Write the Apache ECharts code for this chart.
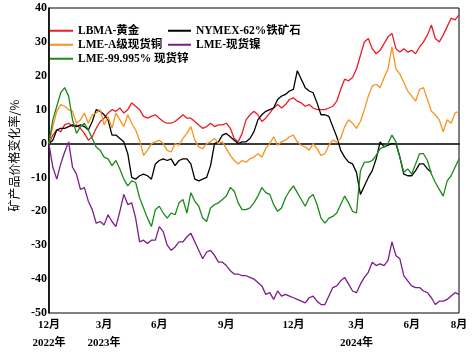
<!DOCTYPE html>
<html><head><meta charset="utf-8">
<script src="https://cdn.jsdelivr.net/npm/echarts@6/dist/echarts.min.js"></script>
<style>html,body{margin:0;padding:0;background:#fff}#c{width:473px;height:356px}</style>
</head><body><div id="c"></div>
<script>
const seriesNames = ['LBMA-黄金', 'NYMEX-62%铁矿石', 'LME-A级现货铜', 'LME-现货镍', 'LME-99.995% 现货锌'];

const gold = [0,2.5,4,3.5,5.5,6,5,5.5,4.5,3,
 1,2,4.5,6.5,7.5,9,10,9.5,10.5,9,
 10,12,11,10,8,7.5,8,8.5,7.5,6.5,
 6,6,6.5,7.5,8.5,7.5,7.5,6.5,5.5,4.5,
 5,6,5,5.5,5.5,6,4.5,1.5,0.5,3,
 7,8.5,9.5,8.5,6.5,7.5,9,10.5,11.5,10.5,
 11.5,13,13.5,12.5,12,11,11.5,10.5,10,10,
 10,10.5,11,12.5,16,19,18.5,19.5,22,26,
 30,31,28,26.5,27.5,29.5,31.5,32.5,28,27,
 28,27,27.5,26.5,28.5,30,32,35,31,30,
 32,34.5,37,36.5,38];

const ironOre = [0,1,4,4.5,4.5,5,5.5,5,5.5,5,
 4,6.5,10,9.5,8.5,7,2.5,2.5,1.5,0.5,
 -3,-10,-10.5,-9.5,-9,-9.5,-10.5,-6,-5,-4.5,
 -5,-4.5,-6.5,-5,-4.5,-4.5,-6,-10.5,-11,-10.5,
 -10,-6.5,0,0.5,2.5,3,2,1,0,0.5,
 0.5,1.5,3.5,7,8.5,9.5,10,10.5,13,14,
 14.5,15.5,16,21.5,19,16.5,15.5,15,12,8.5,
 8.5,8,5,2,-2,-4,-5.5,-6,-8.5,-15,
 -12.5,-10,-8,-4.5,0.5,-1,-0.5,0,0,-4,
 -9,-9.5,-9.5,-8,-6,-6,-7.5,-8.5,null,null,
 null,null,null,null,null];

const copper = [0,5,9.5,11.5,11,10,9.5,6,7,9,
 6,8.5,9,10,5.5,8,4.5,9,7,5,
 8.5,6,4,1,-3.5,-2,0,0.5,1,0,
 -2,-2.5,0,-0.5,1.5,3,5,1,-1,-1.5,
 0,0.5,1.5,0,0.5,-1.5,-3.5,-5,-6,-5,
 -5.5,-4.5,-4,-3,-4,-1.5,0,2,-0.5,0.5,
 1,2,2.5,0.5,-0.5,-1,-2,0,-1.5,-3.5,
 -3,-0.5,1,0.5,1.5,5,7,6,4.5,6.5,
 10,14,17,17.5,16.5,19.5,22,28.5,22,20.5,
 18,15.5,14,12.5,16,16.5,13,9.5,8.5,7,
 3.5,7,6,9,9.5];

const nickel = [0,-7,-10.5,-6,-2.5,0.5,-7,-9,-13.5,-13,
 -17,-19.5,-23.5,-23,-24,-21,-23,-24.5,-20,-15,
 -18,-17.5,-22,-29,-28.5,-29.5,-28.5,-28.5,-24.5,-26,
 -30,-31.5,-30.5,-29,-29,-27.5,-26.5,-29,-31.5,-34,
 -32,-31.5,-33,-35,-35,-36,-37.5,-38.5,-38.5,-39,
 -39,-39.5,-40,-41,-42,-44.5,-44,-46,-43.5,-45,
 -44.5,-45,-45.5,-46,-46.5,-47,-45.5,-45,-46.5,-47.5,
 -47.5,-45,-42.5,-42,-40.5,-39.5,-41.5,-43.5,-44,-41.5,
 -39.5,-38,-35,-36,-35.5,-36,-34.5,-29,-33,-34,
 -39,-40.5,-42,-42.5,-42.5,-43.5,-44,-45.5,-47.5,-46.5,
 -46.5,-46,-45,-44,-44.5];

const zinc = [0,7,11,15,16.5,14,7,3,5,6,
 4,1.5,-1,-2,-4,-4.5,-6.5,-5,-7.5,-10.5,
 -12.5,-11,-11.5,-16,-19,-22,-24.5,-19.5,-18.5,-20.5,
 -22,-20.5,-21,-17.5,-16.5,-20.5,-14.5,-17,-18.5,-22,
 -23,-19,-18,-17.5,-16.5,-15.5,-13,-14,-17.5,-19.5,
 -19.5,-19,-17.5,-15.5,-13,-14.5,-15,-18,-20,-19,
 -16,-14,-12.5,-14.5,-16.5,-18.5,-16,-15,-18,-22,
 -23.5,-22,-21.5,-20.5,-18,-15.5,-17.5,-20,-20.5,-8,
 -5.5,-5.5,-5,-3.5,-1.5,-1,0,2.5,0.5,-4,
 -8.5,-7.5,-9,-6,-3,-3,-5,-9,-11.5,-13.5,
 -15.5,-11,-9.5,-7,-4.5];

// x-axis tick labels (category index -> month / year)
const tickIndex = [0, 14, 28, 45, 62, 78, 92, 104];
const tickMonth = ['12月', '3月', '6月', '9月', '12月', '3月', '6月', '8月'];
const tickYear  = ['2022年', '2023年', '', '', '', '2024年', '', ''];

const categories = gold.map((_, i) => String(i));
const colors = ['#ee1c25', '#000000', '#f7931e', '#7e1a8e', '#1b8a1b'];
const dataSets = [gold, ironOre, copper, nickel, zinc];

const serif = '"Liberation Serif","Times New Roman","Noto Sans CJK SC",serif';
const chart = echarts.init(document.getElementById('c'), null, {renderer: 'canvas'});
const legendText = {fontSize: 11.5, fontWeight: 'bold', color: '#000', fontFamily: serif};
const legendBase = {orient: 'vertical', top: 25, padding: 0, icon: 'rect',
  itemWidth: 23, itemHeight: 2, itemGap: 2.5, textStyle: legendText};
const option = {
  animation: false,
  backgroundColor: '#fff',
  grid: {left: 42, right: 14, top: 8, bottom: 43, show: true, borderColor: '#000', borderWidth: 1, backgroundColor: 'transparent'},
  legend: [
    Object.assign({data: [seriesNames[0], seriesNames[2], seriesNames[4]], left: 50}, legendBase),
    Object.assign({data: [seriesNames[1], seriesNames[3]], left: 168}, legendBase)
  ],
  xAxis: {
    type: 'category', data: categories, boundaryGap: false,
    axisLine: {lineStyle: {color: '#000', width: 1.5}},
    axisTick: {show: false},
    splitLine: {show: false},
    axisLabel: {
      interval: (i) => tickIndex.includes(i),
      formatter: (v, i) => {
        const k = tickIndex.indexOf(i);
        return k < 0 ? '' : tickMonth[k] + '\n' + tickYear[k];
      },
      margin: 3, fontSize: 11, fontWeight: 'bold', lineHeight: 18, color: '#000', fontFamily: serif
    }
  },
  yAxis: {
    type: 'value', min: -50, max: 40, interval: 10,
    name: '矿产品价格变化率/%', nameLocation: 'middle', nameGap: 25,
    nameTextStyle: {fontSize: 12, color: '#000', fontFamily: '"Noto Sans CJK SC"', padding: [0, 0, 0, 10]},
    axisLine: {show: true, lineStyle: {color: '#000', width: 1.5}},
    axisTick: {show: false},
    splitLine: {show: false},
    axisLabel: {margin: 2, fontSize: 12, fontWeight: 'bold', color: '#000', fontFamily: serif}
  },
  series: seriesNames.map((n, k) => ({
    name: n, type: 'line', data: dataSets[k], symbol: 'none', showSymbol: false,
    connectNulls: false, color: colors[k],
    lineStyle: {width: 1.3, color: colors[k]}
  }))
};
chart.setOption(option);
</script></body></html>
